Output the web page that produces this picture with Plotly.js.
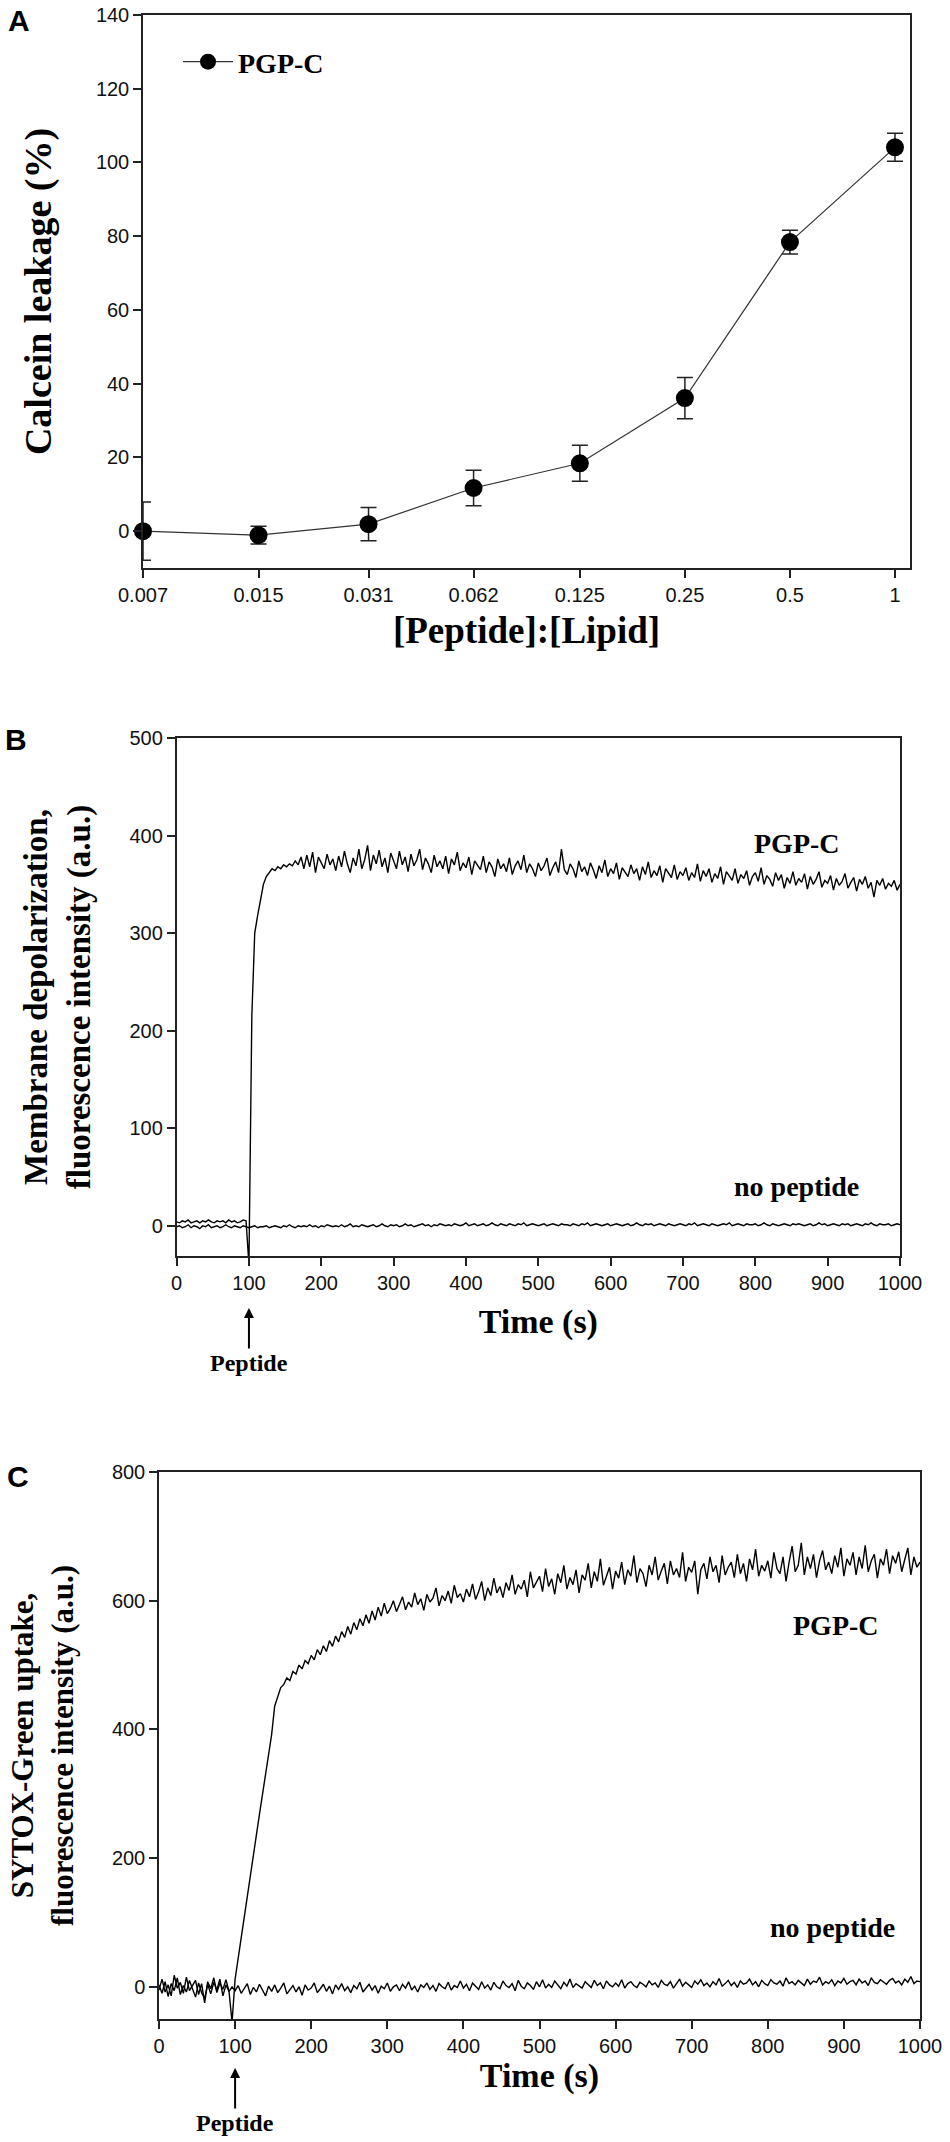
<!DOCTYPE html>
<html>
<head>
<meta charset="utf-8">
<script src="https://cdn.plot.ly/plotly-3.0.1.min.js"></script>
<style>
  html, body { margin: 0; padding: 0; background: #fff; }
  #chart { width: 950px; height: 2142px; }
</style>
</head>
<body>
<div id="chart"></div>
<script>
// ---------- Panel A: calcein leakage ----------
const ratios = [0.007, 0.015, 0.031, 0.062, 0.125, 0.25, 0.5, 1];
const ratioLabels = ["0.007", "0.015", "0.031", "0.062", "0.125", "0.25", "0.5", "1"];
const leakage = [0, -1.1, 1.9, 11.7, 18.4, 36.1, 78.4, 104.1];
const leakageErr = [7.9, 2.4, 4.5, 4.8, 4.9, 5.6, 3.2, 3.8];

// ---------- Panels B and C: time courses, sampled every 4 s (0 ... 1000 s) ----------
const SAMPLE_STEP_S = 4;

const depolPGPC = [
  4, 3, 5, 4, 6, 3, 4, 5, 3, 5, 4, 6, 4, 3, 5, 4, 5, 3, 6, 4, 5, 3, 4, 6, 5,
  -40, 215, 300, 318, 336, 350, 358, 362, 366, 364,
  368, 366, 370, 368, 371, 369, 374, 370, 378, 366,
  380, 368, 383, 362, 378, 372, 366, 381, 370, 376,
  364, 379, 368, 384, 371, 362, 377, 369, 386, 366,
  375, 390, 364, 380, 371, 385, 368, 377, 362, 382,
  373, 366, 384, 370, 378, 363, 381, 369, 375, 386,
  365, 377, 371, 362, 380, 368, 374, 366, 379, 361,
  376, 370, 383, 364, 372, 367, 378, 360, 374, 369,
  365, 379, 362, 373, 368, 358, 376, 366, 371, 363,
  377, 360, 369, 374, 365, 380, 362, 371, 366, 358,
  372, 364, 369, 377, 359, 367, 373, 362, 386, 365,
  360, 371, 366, 357, 374, 363, 368, 359, 372, 365,
  356, 369, 362, 375, 358, 366, 361, 372, 355, 367,
  363, 358, 370, 361, 366, 354, 368, 360, 373, 357,
  364, 359, 369, 352, 366, 361, 357, 370, 355, 363,
  359, 367, 354, 362, 357, 371, 353, 364, 358, 366,
  352, 361, 356, 368, 350, 363, 358, 354, 366, 351,
  360, 356, 364, 349, 358, 362, 353, 367, 350, 359,
  355, 348, 362, 354, 360, 346, 357, 351, 363, 349,
  356, 352, 361, 345, 358, 350, 355, 363, 347, 354,
  351, 359, 344, 356, 349, 353, 361, 346, 352, 357,
  343, 355, 350, 358, 346, 352, 337, 354, 349, 356,
  345, 351, 348, 354, 344, 350
];

const depolNone = [
  -1, 0, -2, -1, 1, -2, 0, -1, -3, 0, -1, 1, -2, -1, 0, -2, -1, 1, -1, -2, 0, -1, -2, 0, -1,
  -2, -1, 0, -2, -1, -1, 0, -2, -1, 0,
  -1, -2, 0, -1, 1, -1, -2, 0, -1, 0,
  -1, 1, -1, 0, -2, 0, -1, 1, 0, -1,
  0, -1, 1, -1, 0, 2, -1, 0, -1, 1,
  0, -1, 0, 1, -1, 0, 2, 0, -1, 1,
  0, 1, -1, 0, 2, 0, 1, -1, 0, 1,
  2, 0, 1, -1, 1, 0, 2, 1, 0, 1,
  0, 2, 1, 0, 1, 3, 0, 1, 2, 0,
  1, 2, 0, 1, 3, 1, 0, 2, 1, 0,
  2, 1, 0, 2, 1, 3, 0, 1, 2, 1,
  0, 1, 2, 0, 1, 2, 1, 0, 2, 1,
  1, 0, 2, 1, 0, 2, 1, 3, 0, 1,
  2, 1, 0, 1, 2, 0, 1, 2, 1, 0,
  1, 2, 0, 1, 3, 1, 0, 2, 1, 2,
  0, 1, 2, 1, 0, 2, 1, 0, 1, 2,
  1, 0, 2, 1, 3, 0, 1, 2, 1, 0,
  2, 1, 0, 1, 2, 1, 3, 0, 1, 2,
  1, 0, 2, 1, 1, 2, 0, 1, 3, 1,
  0, 2, 1, 0, 1, 2, 1, 0, 2, 1,
  2, 1, 0, 1, 2, 0, 1, 3, 1, 2,
  0, 1, 2, 1, 0, 2, 1, 2, 0, 1,
  2, 1, 0, 2, 1, 3, 1, 0, 2, 1,
  1, 2, 0, 1, 2, 1
];

const sytoxPGPC = [
  -5, 12, -8, 3, -14, 18, -2, 7, -10, 15, -6, 2, 10, -12, 5, -25, 8, -3, 14, -9, 6, -4, 11, -7, -55,
  12, 45, 75, 108, 140, 172, 205, 236, 268, 300, 332, 362, 392, 436, 452, 465, 470, 480, 476, 490, 486, 500, 494, 507, 502,
  515, 508, 524, 516, 530, 521, 538, 529, 545, 536,
  552, 543, 560, 548, 566, 555, 572, 561, 578, 565,
  584, 570, 590, 576, 596, 580, 588, 600, 583, 594,
  606, 586, 598, 590, 612, 594, 603, 585, 610, 598,
  604, 620, 592, 608, 600, 615, 596, 624, 605, 611,
  598, 618, 606, 626, 602, 614, 630, 600, 620, 608,
  635, 612, 622, 605, 628, 616, 640, 610, 625, 618,
  632, 606, 645, 620, 628, 638, 614, 650, 622, 634,
  610, 642, 628, 655, 618, 636, 625, 648, 612, 640,
  632, 658, 620, 645, 630, 665, 624, 640, 652, 618,
  646, 635, 660, 625, 648, 638, 670, 628, 650, 642,
  622, 655, 640, 668, 632, 646, 658, 626, 662, 640,
  650, 636, 675, 630, 652, 644, 662, 610, 648, 658,
  634, 668, 645, 655, 628, 670, 640, 652, 660, 636,
  672, 642, 658, 630, 665, 648, 680, 638, 655, 646,
  662, 635, 675, 650, 642, 668, 630, 660, 685, 645,
  655, 690, 640, 668, 650, 672, 636, 662, 678, 648,
  660, 642, 670, 652, 682, 638, 665, 655, 675, 640,
  668, 650, 686, 645, 662, 672, 635, 665, 655, 680,
  642, 670, 658, 676, 645, 664, 682, 640, 668, 652,
  660
];

const sytoxNone = [
  3, -10, 8, -15, 5, -6, 14, -12, 2, -8, 10, -4, -16, 6, -9, -18, 4, -11, 7, -5, 12, -14, 3, -7, 0,
  -6, 2, -10, -3, 5, -12, -1, -8, 4, -5, -14, 1, -7, 3, -9, -2, 6, -11, -4, 2, -8, 0, -13, 3, -5,
  -2, 6, -9, -3, 4, -7, 1, -11, 3, -4,
  5, -6, 0, -9, 2, -3, 7, -8, -1, 4,
  -5, 2, -10, 1, -3, 6, -7, 0, 3, -6,
  4, -2, 8, -5, 1, -8, 3, -1, 6, -4,
  2, -7, 5, 0, -3, 7, -5, 2, -1, 9,
  -2, 4, -6, 6, 1, -4, 8, -2, 3, -5,
  7, 0, -3, 9, 2, -1, 5, -6, 10, 1,
  -3, 6, 2, -4, 8, 0, 11, -2, 4, -1,
  9, 3, -3, 7, 1, 12, -1, 5, 2, -2,
  8, 4, -1, 10, 2, 6, -3, 9, 3, 0,
  6, 1, 11, -2, 5, 8, 2, -1, 7, 4,
  0, 9, 3, 6, -1, 10, 4, 2, 8, -2,
  5, 12, 1, 7, 3, -1, 9, 4, 11, 2,
  6, 0, 8, 3, 13, 1, 5, 10, 2, 7,
  -1, 9, 4, 6, 12, 3, 8, 0, 10, 5,
  2, 11, 6, 4, 9, 1, 14, 5, 8, 3,
  10, 6, 2, 12, 4, 9, 7, 15, 3, 8,
  5, 11, 2, 9, 6, 13, 4, 8, 10, 3,
  12, 6, 9, 2, 14, 7, 5, 11, 8, 4,
  10, 13, 6, 9, 3, 12, 7, 16, 5, 9,
  8
];

const timeS = depolPGPC.map((_, i) => i * SAMPLE_STEP_S);

// ---------- styling ----------
const W = 950, H = 2142;
const serifBold = { family: "Liberation Serif, Times New Roman, serif", weight: 700, color: "#000" };
const tickFont = { family: "Liberation Sans, Arial, sans-serif", size: 20, color: "#111" };
const axisBase = {
  showline: true, linecolor: "#222", linewidth: 1.5, mirror: true,
  ticks: "outside", ticklen: 8, tickwidth: 1.5, tickcolor: "#222",
  showgrid: false, zeroline: false, tickfont: tickFont, automargin: false,
  fixedrange: true
};
const px2x = p => p / W;
const px2y = p => 1 - p / H;
const traceLine = { color: "#000", width: 1.4 };

const traces = [
  {
    x: ratios, y: leakage, type: "scatter", mode: "lines+markers",
    name: "PGP-C", xaxis: "x", yaxis: "y", showlegend: true, cliponaxis: false,
    line: { color: "#333", width: 1.2 },
    marker: { color: "#000", size: 18, symbol: "circle" },
    error_y: { type: "data", array: leakageErr, visible: true, color: "#222", thickness: 1.5, width: 8 }
  },
  {
    x: timeS, y: depolNone, type: "scatter", mode: "lines", name: "no peptide (B)",
    xaxis: "x2", yaxis: "y2", showlegend: false, line: traceLine
  },
  {
    x: timeS, y: depolPGPC, type: "scatter", mode: "lines", name: "PGP-C (B)",
    xaxis: "x2", yaxis: "y2", showlegend: false, line: traceLine
  },
  {
    x: timeS, y: sytoxNone, type: "scatter", mode: "lines", name: "no peptide (C)",
    xaxis: "x3", yaxis: "y3", showlegend: false, line: traceLine
  },
  {
    x: timeS, y: sytoxPGPC, type: "scatter", mode: "lines", name: "PGP-C (C)",
    xaxis: "x3", yaxis: "y3", showlegend: false, line: traceLine
  }
];

const layout = {
  width: W, height: H,
  margin: { l: 0, r: 0, t: 0, b: 0 },
  paper_bgcolor: "#fff", plot_bgcolor: "#fff",
  showlegend: true,
  legend: {
    x: px2x(178), xanchor: "left", y: px2y(62), yanchor: "middle",
    bgcolor: "rgba(0,0,0,0)", borderwidth: 0, itemwidth: 50,
    font: Object.assign({}, serifBold, { size: 28 })
  },
  xaxis: Object.assign({}, axisBase, {
    domain: [px2x(143), px2x(910)], anchor: "y",
    type: "log", range: [Math.log10(0.007), 0.043],
    tickmode: "array", tickvals: ratios, ticktext: ratioLabels,
    title: { text: "[Peptide]:[Lipid]", font: Object.assign({}, serifBold, { size: 37 }), standoff: 12 }
  }),
  yaxis: Object.assign({}, axisBase, {
    domain: [px2y(568), px2y(15)], anchor: "x",
    range: [-10, 140], tick0: 0, dtick: 20,
    title: { text: "Calcein leakage (%)", font: Object.assign({}, serifBold, { size: 38 }), standoff: 33 }
  }),
  xaxis2: Object.assign({}, axisBase, {
    domain: [px2x(176.6), px2x(900)], anchor: "y2",
    range: [0, 1000], tick0: 0, dtick: 100,
    title: { text: "Time (s)", font: Object.assign({}, serifBold, { size: 34 }), standoff: 16 }
  }),
  yaxis2: Object.assign({}, axisBase, {
    domain: [px2y(1256), px2y(738)], anchor: "x2",
    range: [-31, 500], tick0: 0, dtick: 100,
    title: { text: "Membrane depolarization,<br>fluorescence intensity (a.u.)", font: Object.assign({}, serifBold, { size: 33 }), standoff: 29 }
  }),
  xaxis3: Object.assign({}, axisBase, {
    domain: [px2x(159), px2x(920)], anchor: "y3",
    range: [0, 1000], tick0: 0, dtick: 100,
    title: { text: "Time (s)", font: Object.assign({}, serifBold, { size: 34 }), standoff: 5 }
  }),
  yaxis3: Object.assign({}, axisBase, {
    domain: [px2y(2019), px2y(1472)], anchor: "x3",
    range: [-50, 800], tick0: 0, dtick: 200,
    title: { text: "SYTOX-Green uptake,<br>fluorescence intensity (a.u.)", font: Object.assign({}, serifBold, { size: 31 }), standoff: 29 }
  }),
  annotations: [
    { text: "A", xref: "paper", yref: "paper", x: px2x(19), y: px2y(21), showarrow: false, xanchor: "center", yanchor: "middle",
      font: { family: "Liberation Sans, Arial, sans-serif", size: 30, weight: 700, color: "#000" } },
    { text: "B", xref: "paper", yref: "paper", x: px2x(16), y: px2y(739), showarrow: false, xanchor: "center", yanchor: "middle",
      font: { family: "Liberation Sans, Arial, sans-serif", size: 30, weight: 700, color: "#000" } },
    { text: "C", xref: "paper", yref: "paper", x: px2x(18), y: px2y(1476), showarrow: false, xanchor: "center", yanchor: "middle",
      font: { family: "Liberation Sans, Arial, sans-serif", size: 30, weight: 700, color: "#000" } },
    { text: "PGP-C", xref: "x2", yref: "y2", x: 857, y: 392, showarrow: false, font: Object.assign({}, serifBold, { size: 28 }) },
    { text: "no peptide", xref: "x2", yref: "y2", x: 857, y: 40, showarrow: false, font: Object.assign({}, serifBold, { size: 28 }) },
    { text: "PGP-C", xref: "x3", yref: "y3", x: 890, y: 561, showarrow: false, font: Object.assign({}, serifBold, { size: 28 }) },
    { text: "no peptide", xref: "x3", yref: "y3", x: 885, y: 92, showarrow: false, font: Object.assign({}, serifBold, { size: 28 }) },
    { text: "Peptide", xref: "x2", yref: "paper", x: 100, y: px2y(1308), showarrow: true, ax: 0, ay: 55,
      arrowhead: 2, arrowsize: 1, arrowwidth: 2, arrowcolor: "#000", standoff: 0,
      font: Object.assign({}, serifBold, { size: 24 }) },
    { text: "Peptide", xref: "x3", yref: "paper", x: 100, y: px2y(2068), showarrow: true, ax: 0, ay: 55,
      arrowhead: 2, arrowsize: 1, arrowwidth: 2, arrowcolor: "#000", standoff: 0,
      font: Object.assign({}, serifBold, { size: 24 }) }
  ]
};

Plotly.newPlot("chart", traces, layout, { displayModeBar: false, responsive: false });
</script>
</body>
</html>
